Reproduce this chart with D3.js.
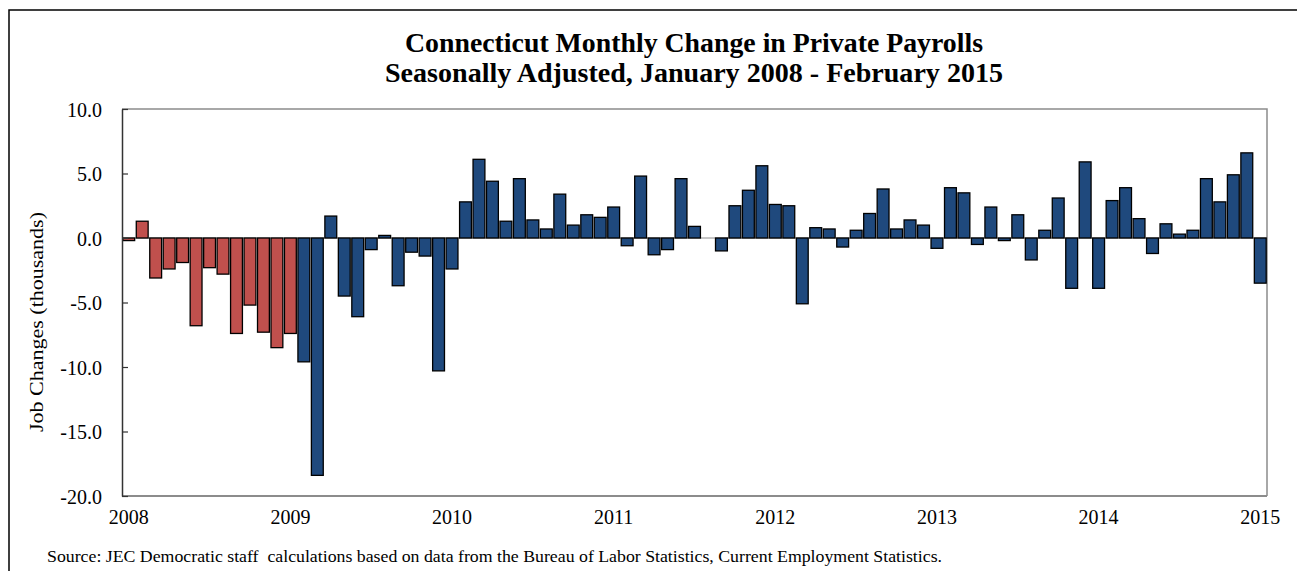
<!DOCTYPE html>
<html>
<head>
<meta charset="utf-8">
<script src="https://cdn.jsdelivr.net/npm/d3@7"></script>
<style>
  html, body { margin: 0; padding: 0; background: #fff; }
  svg { display: block; }
  text { font-family: "Liberation Serif", "DejaVu Serif", serif; fill: #000; }
</style>
</head>
<body>
<svg id="chart" width="1297" height="571"></svg>
<script>
// ---- Data ----
const titleLines = [
  "Connecticut Monthly Change in Private Payrolls",
  "Seasonally Adjusted, January 2008 - February 2015"
];
const yAxisTitle = "Job Changes (thousands)";
const sourceNote = "Source: JEC Democratic staff  calculations based on data from the Bureau of Labor Statistics, Current Employment Statistics.";

const months = [
  "2008-01","2008-02","2008-03","2008-04","2008-05","2008-06","2008-07","2008-08","2008-09","2008-10","2008-11","2008-12",
  "2009-01","2009-02","2009-03","2009-04","2009-05","2009-06","2009-07","2009-08","2009-09","2009-10","2009-11","2009-12",
  "2010-01","2010-02","2010-03","2010-04","2010-05","2010-06","2010-07","2010-08","2010-09","2010-10","2010-11","2010-12",
  "2011-01","2011-02","2011-03","2011-04","2011-05","2011-06","2011-07","2011-08","2011-09","2011-10","2011-11","2011-12",
  "2012-01","2012-02","2012-03","2012-04","2012-05","2012-06","2012-07","2012-08","2012-09","2012-10","2012-11","2012-12",
  "2013-01","2013-02","2013-03","2013-04","2013-05","2013-06","2013-07","2013-08","2013-09","2013-10","2013-11","2013-12",
  "2014-01","2014-02","2014-03","2014-04","2014-05","2014-06","2014-07","2014-08","2014-09","2014-10","2014-11","2014-12",
  "2015-01"
];
const payrollChange = [
  -0.2, 1.3, -3.1, -2.4, -1.9, -6.8, -2.3, -2.8, -7.4, -5.2, -7.3, -8.5,
  -7.4, -9.6, -18.4, 1.7, -4.5, -6.1, -0.9, 0.2, -3.7, -1.1, -1.4, -10.3,
  -2.4, 2.8, 6.1, 4.4, 1.3, 4.6, 1.4, 0.7, 3.4, 1.0, 1.8, 1.6,
  2.4, -0.6, 4.8, -1.3, -0.9, 4.6, 0.9, 0.0, -1.0, 2.5, 3.7, 5.6,
  2.6, 2.5, -5.1, 0.8, 0.7, -0.7, 0.6, 1.9, 3.8, 0.7, 1.4, 1.0,
  -0.8, 3.9, 3.5, -0.5, 2.4, -0.2, 1.8, -1.7, 0.6, 3.1, -3.9, 5.9,
  -3.9, 2.9, 3.9, 1.5, -1.2, 1.1, 0.3, 0.6, 4.6, 2.8, 4.9, 6.6,
  -3.5
];
const lastRedMonth = "2009-01";
const xTickMonths = ["2008-01","2009-01","2010-01","2011-01","2012-01","2013-01","2014-01","2015-01"];
const xTickLabels = ["2008","2009","2010","2011","2012","2013","2014","2015"];
const yTickValues = [10, 5, 0, -5, -10, -15, -20];
const yTickLabels = ["10.0","5.0","0.0","-5.0","-10.0","-15.0","-20.0"];

// ---- Layout ----
const svg = d3.select("#chart");
const plot = { left: 122, right: 1267, top: 109, bottom: 496 };
const RED = "#C0504D", BLUE = "#1F497D";

const x = d3.scaleBand().domain(months).range([plot.left, plot.right])
  .paddingInner(0.12).paddingOuter(0.06);
const y = d3.scaleLinear().domain([-20, 10]).range([plot.bottom, plot.top]);

// outer frame
svg.append("rect").attr("x", 9).attr("y", 10).attr("width", 1400).attr("height", 700)
  .attr("fill", "none").attr("stroke", "#000").attr("stroke-width", 1.5);

// titles
const titleBox = [[405, 52, 578], [385, 82, 618]];
titleLines.forEach((t, i) => {
  svg.append("text").attr("x", titleBox[i][0]).attr("y", titleBox[i][1])
    .attr("textLength", titleBox[i][2]).attr("lengthAdjust", "spacingAndGlyphs")
    .attr("font-size", 28).attr("font-weight", "bold").text(t);
});

// plot frame (top & right gray)
svg.append("path")
  .attr("d", `M${plot.left},${plot.top}H${plot.right}V${plot.bottom}`)
  .attr("fill", "none").attr("stroke", "#8c8c8c").attr("stroke-width", 1.5);

// zero line
svg.append("line").attr("x1", plot.left).attr("x2", plot.right)
  .attr("y1", y(0)).attr("y2", y(0)).attr("stroke", "#8c8c8c").attr("stroke-width", 1);

// bars
const isRed = m => m <= lastRedMonth;
svg.append("g").selectAll("rect").data(months).join("rect")
  .attr("x", d => x(d))
  .attr("width", x.bandwidth())
  .attr("y", (d, i) => y(Math.max(0, payrollChange[i])))
  .attr("height", (d, i) => Math.abs(y(payrollChange[i]) - y(0)))
  .attr("fill", d => isRed(d) ? RED : BLUE)
  .attr("stroke", "#000").attr("stroke-width", 1.3);

// bottom axis line (gray)
svg.append("line").attr("x1", plot.left).attr("x2", plot.right)
  .attr("y1", plot.bottom).attr("y2", plot.bottom)
  .attr("stroke", "#8c8c8c").attr("stroke-width", 2);

// left axis
const yAxis = d3.axisLeft(y).tickValues(yTickValues).tickSizeInner(-6).tickSizeOuter(0)
  .tickPadding(20).tickFormat((d, i) => yTickLabels[i]);
const gy = svg.append("g").attr("transform", `translate(${plot.left},0)`).call(yAxis);
gy.select(".domain").attr("stroke", "#333").attr("stroke-width", 1.5);
gy.selectAll(".tick line").attr("stroke", "#333").attr("stroke-width", 1.2);
gy.selectAll(".tick text").attr("font-family", "Liberation Serif, serif")
  .attr("font-size", 20).attr("fill", "#000").attr("dy", "0.35em");

// bottom tick labels
const xAxis = d3.axisBottom(x).tickValues(xTickMonths).tickSize(0).tickPadding(14)
  .tickFormat(d => xTickLabels[xTickMonths.indexOf(d)]);
const gx = svg.append("g").attr("transform", `translate(0,${plot.bottom})`).call(xAxis);
gx.select(".domain").remove();
gx.selectAll(".tick text").attr("font-family", "Liberation Serif, serif")
  .attr("font-size", 20).attr("fill", "#000");

// y axis title
svg.append("text").attr("transform", "translate(43,322) rotate(-90)")
  .attr("text-anchor", "middle").attr("font-size", 19)
  .attr("textLength", 220).attr("lengthAdjust", "spacingAndGlyphs")
  .text(yAxisTitle);

// source
svg.append("text").attr("x", 47).attr("y", 562).attr("font-size", 16)
  .style("white-space", "pre")
  .attr("textLength", 895).attr("lengthAdjust", "spacingAndGlyphs")
  .text(sourceNote);
</script>
</body>
</html>
